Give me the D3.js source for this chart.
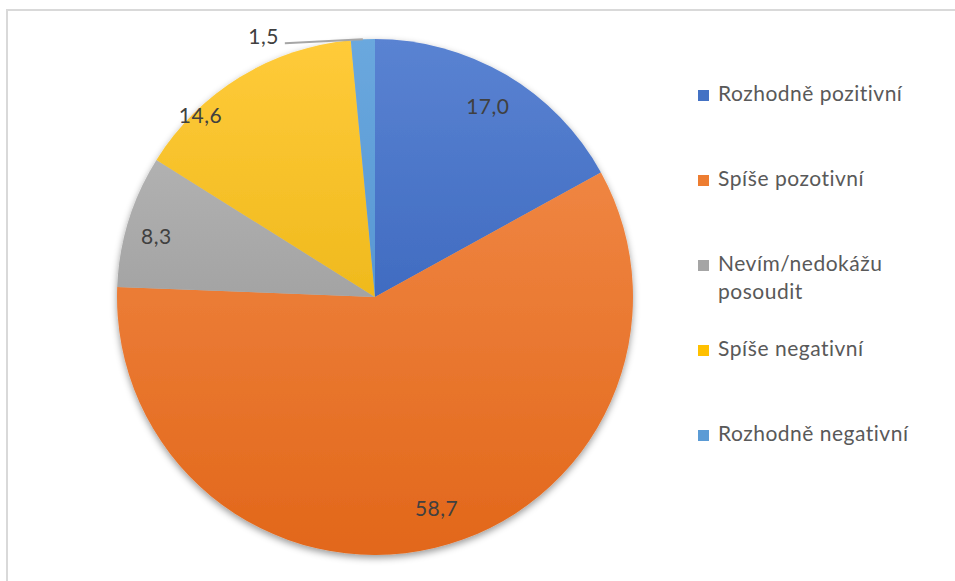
<!DOCTYPE html>
<html>
<head>
<meta charset="utf-8">
<script src="https://cdn.jsdelivr.net/npm/d3@7"></script>
<style>
  html, body { margin: 0; padding: 0; background: #fff; }
  svg { display: block; font-family: Lato, "Open Sans", sans-serif; }
</style>
</head>
<body>
<svg id="chart" width="955" height="581"></svg>
<script>
// Survey answers, in drawing order (clockwise from 12 o'clock)
const categories = [
  "Rozhodně pozitivní",
  "Spíše pozotivní",
  "Nevím/nedokážu posoudit",
  "Spíše negativní",
  "Rozhodně negativní"
];
const values = [17.0, 58.7, 8.3, 14.6, 1.5];
const valueLabels = ["17,0", "58,7", "8,3", "14,6", "1,5"];

// Legend text, split into lines
const legendLines = [
  ["Rozhodně pozitivní"],
  ["Spíše pozotivní"],
  ["Nevím/nedokážu", "posoudit"],
  ["Spíše negativní"],
  ["Rozhodně negativní"]
];

// Slice fills: light (top) → dark (bottom)
const fillTop    = ["#5A83D2", "#F49050", "#BDBDBD", "#FFCB3A", "#6AA8DE"];
const fillBottom = ["#2654B0", "#E2671A", "#8A8A8A", "#E0A800", "#4486C8"];
const swatch     = ["#4472C4", "#ED7D31", "#A5A5A5", "#FFC000", "#5B9BD5"];

// Label placement: radius as a share of the pie radius, angle nudge in degrees
const labelRadius = [0.86, 0.85, 0.88, 0.98, null];
const labelNudge  = [0, -3, -1.5, -12, 0];

const W = 955, H = 581;
const cx = 375, cy = 297, R = 258;

const svg = d3.select("#chart");
const defs = svg.append("defs");

// Frame of the chart area
svg.append("path")
  .attr("d", `M7,${H + 5} V10 H${W + 5}`)
  .attr("fill", "none")
  .attr("stroke", "#D9D9D9")
  .attr("stroke-width", 2);

// Soft shadow under the pie
const shadow = defs.append("filter")
  .attr("id", "pieShadow")
  .attr("x", "-10%").attr("y", "-10%")
  .attr("width", "120%").attr("height", "125%");
shadow.append("feDropShadow")
  .attr("dx", 0).attr("dy", 3)
  .attr("stdDeviation", 3.5)
  .attr("flood-color", "#000")
  .attr("flood-opacity", 0.4);

// Vertical gradients in the pie's local coordinates (centre at 0,0)
categories.forEach((c, i) => {
  const g = defs.append("linearGradient")
    .attr("id", "grad" + i)
    .attr("gradientUnits", "userSpaceOnUse")
    .attr("x1", 0).attr("x2", 0)
    .attr("y1", -R).attr("y2", R);
  g.append("stop").attr("offset", 0).attr("stop-color", fillTop[i]);
  g.append("stop").attr("offset", 1).attr("stop-color", fillBottom[i]);
});

const pie = d3.pie().sort(null).value(d => d)(values);
const arc = d3.arc().innerRadius(0).outerRadius(R);

const pieG = svg.append("g")
  .attr("transform", `translate(${cx},${cy})`);

const slices = pieG.append("g").attr("filter", "url(#pieShadow)");
slices.selectAll("path")
  .data(pie)
  .join("path")
  .attr("d", arc)
  .attr("fill", (d, i) => `url(#grad${i})`);

// Value labels
const toXY = (angle, r) => [Math.sin(angle) * r, -Math.cos(angle) * r];
const labelG = pieG.append("g")
  .attr("font-size", 21)
  .attr("letter-spacing", 0.5)
  .attr("fill", "#404040");

pie.forEach((d, i) => {
  const mid = (d.startAngle + d.endAngle) / 2;
  if (labelRadius[i] !== null) {
    const [x, y] = toXY(mid + labelNudge[i] * Math.PI / 180, labelRadius[i] * R);
    labelG.append("text")
      .attr("x", x).attr("y", y)
      .attr("text-anchor", "middle")
      .attr("dominant-baseline", "central")
      .text(valueLabels[i]);
  } else {
    // Small slice: label outside with a leader line
    const [ex, ey] = toXY(mid, R);
    const lx = ex - 78, ly = ey + 4;
    pieG.append("line")
      .attr("x1", ex).attr("y1", ey)
      .attr("x2", lx).attr("y2", ly)
      .attr("stroke", "#A6A6A6")
      .attr("stroke-width", 2);
    labelG.append("text")
      .attr("x", lx - 6).attr("y", ly + 1)
      .attr("text-anchor", "end")
      .text(valueLabels[i]);
  }
});

// Legend
const legend = svg.append("g")
  .attr("font-size", 21)
  .attr("letter-spacing", 0.5)
  .attr("fill", "#595959");
const legendY = d3.scalePoint()
  .domain(d3.range(categories.length))
  .range([101, 441]);

categories.forEach((c, i) => {
  const y = legendY(i);
  legend.append("rect")
    .attr("x", 698).attr("y", y - 11)
    .attr("width", 11).attr("height", 11)
    .attr("fill", swatch[i]);
  legendLines[i].forEach((line, j) => {
    legend.append("text")
      .attr("x", 718).attr("y", y + j * 28)
      .text(line);
  });
});
</script>
</body>
</html>
